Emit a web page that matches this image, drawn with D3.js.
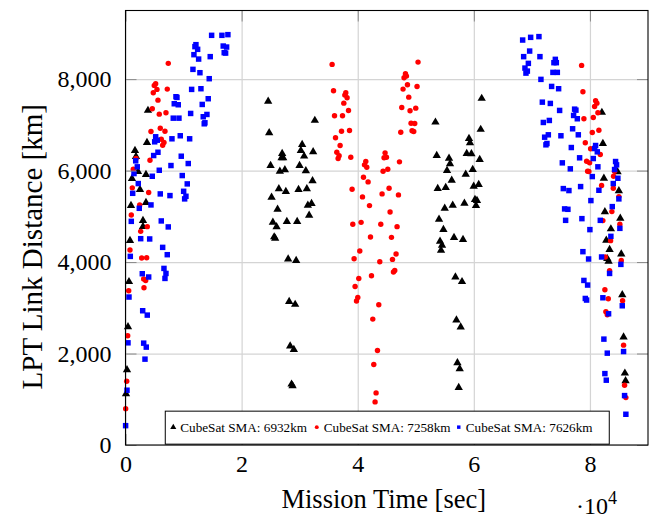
<!DOCTYPE html>
<html>
<head>
<meta charset="utf-8">
<script src="https://cdn.jsdelivr.net/npm/d3@7"></script>
<style>
  body { margin: 0; background: #fff; }
  svg { display: block; font-family: 'Liberation Serif', 'DejaVu Serif', serif; }
  .grid line { stroke: #d4d4d4; stroke-width: 1.2; }
  .grid path { display: none; }
  .ticks line { stroke: #8a8a8a; stroke-width: 1; }
  .ticks path { display: none; }
  .ticks text { fill: #000; font-size: 24px; font-family: 'Liberation Serif', 'DejaVu Serif', serif; }
</style>
</head>
<body>
<div id="chart"></div>
<script>
// Mission time [s] / LPT link distance [km]
const seriesNames = ['CubeSat SMA: 6932km', 'CubeSat SMA: 7258km', 'CubeSat SMA: 7626km'];
const xTicks = [0, 20000, 40000, 60000, 80000];
const yTicks = [0, 2000, 4000, 6000, 8000];

const sma6932 = [
  [3870, 7315], [3700, 6614], [1635, 6439], [1807, 6307], [2151, 5979], [3528, 5913],
  [1119, 5825], [2495, 5585], [947, 5234], [3528, 5300], [3012, 4906], [3012, 4774],
  [774, 4468], [602, 3570], [430, 2584], [258, 1643], [86, 1117],
  [24576, 7512], [32613, 7096], [24748, 6826], [30427, 6570], [30204, 6439], [26985, 6373],
  [26882, 6279], [27157, 6279], [32320, 6410], [30771, 6314], [24989, 6110], [29980, 6110],
  [26589, 5985], [27450, 6016], [31064, 5994], [32217, 5775], [26417, 5600], [27622, 5541],
  [29808, 5585], [31236, 5600], [25161, 5416], [32045, 5278], [31408, 5241], [26194, 5153],
  [31632, 5022], [25385, 4868], [26021, 4768], [27794, 4884], [29567, 4884], [25608, 4549],
  [25781, 4518], [28018, 4067], [29395, 4030], [28190, 3138], [29223, 3073], [28362, 2162],
  [28999, 2087], [28603, 1329], [28775, 1292],
  [61354, 7577], [53385, 7058], [61182, 6899], [59168, 6701], [59340, 6607], [58772, 6373],
  [59581, 6366], [53609, 6329], [55726, 6270], [55898, 6147], [61010, 6242], [55382, 6001],
  [59805, 6023], [58600, 5920], [56191, 5788], [53781, 5606], [55158, 5628], [59977, 5657],
  [60838, 5694], [60201, 5366], [60545, 5344], [60373, 5234], [54986, 5175], [56363, 5241],
  [58376, 5285], [54005, 4934], [54762, 4709], [56586, 4533], [58135, 4490], [54177, 4452],
  [54521, 4365], [54349, 4255], [56827, 3673], [57963, 3570], [57000, 2731], [57740, 2578],
  [57172, 1796], [57567, 1664], [57395, 1255],
  [82057, 7271], [82229, 6592], [84759, 5972], [82401, 5832], [84983, 5556], [82574, 5096],
  [85224, 4956], [83606, 4724], [82815, 4474], [83382, 4271], [85396, 4176], [82987, 4073],
  [83210, 4014], [85568, 3285], [85792, 2359], [86016, 1570], [86136, 1402]
];

const sma7258 = [
  [7366, 8344], [5197, 7899], [4956, 7862], [5421, 7775], [7194, 7781], [4784, 7702],
  [5593, 7540], [4612, 7352], [6970, 7264], [5817, 7234], [4389, 6855], [5989, 6927],
  [6798, 6861], [6161, 6686], [6626, 6614], [6402, 6555], [4216, 6226], [1807, 6263],
  [1342, 6029], [1170, 5622], [3993, 5519], [2444, 5249], [998, 5030], [3752, 4774],
  [2616, 4671], [774, 4264], [2788, 4089], [3649, 4095], [3132, 3629], [3476, 3598],
  [3184, 3438], [551, 3373], [379, 2387], [207, 1395], [30, 795],
  [35590, 8322], [35831, 7746], [37948, 7702], [37776, 7650], [38172, 7593], [37604, 7474],
  [38413, 7315], [36003, 7199], [37380, 7199], [37208, 6861], [38585, 6877], [36176, 6717],
  [36967, 6548], [36399, 6401], [36795, 6323], [36624, 6263], [38809, 6292], [41390, 6198],
  [41166, 6125], [41562, 6073], [44712, 6388], [44953, 6292], [44539, 6279], [47190, 6191],
  [45176, 6029], [44367, 5985], [40994, 5854], [41786, 5753], [39032, 5591], [45400, 5613],
  [44195, 5490], [47018, 5468], [40822, 5425], [42027, 5234], [45572, 5096], [39153, 4825],
  [40581, 4868], [43972, 4825], [46777, 4774], [42199, 4549], [45813, 4540], [40357, 4242],
  [39376, 4073], [46605, 4176], [43799, 4008], [45985, 4058], [46381, 3817], [46157, 3782],
  [42371, 3701], [40185, 3642], [39549, 3467], [40013, 3226], [39790, 3147], [43627, 3066],
  [42595, 2753], [43404, 2065], [42767, 1759], [43163, 1139], [42991, 942],
  [50391, 8372], [48222, 8118], [48395, 8066], [47981, 8031], [48567, 7877], [50219, 7840],
  [47809, 7781], [48790, 7606], [47586, 7380], [49014, 7308], [49995, 7365], [49186, 7036],
  [49823, 7030], [47413, 6839], [49358, 6870], [49651, 6855],
  [78564, 8300], [78787, 7724], [80973, 7527], [81197, 7474], [80801, 7402], [81369, 7264],
  [80577, 7161], [78959, 7133], [81541, 6883], [80405, 6833], [79200, 6607], [80113, 6476],
  [81782, 6351], [79424, 6204], [79940, 6169], [79597, 5985], [79820, 5979], [84243, 5985],
  [84070, 5876], [82006, 5672], [84019, 5613], [84983, 5431], [83778, 5103], [82229, 4906],
  [85155, 4825], [83555, 4468], [82642, 4111], [85396, 4036], [83382, 3811], [82574, 3395],
  [83159, 3197], [85620, 3154], [82746, 2913], [82987, 2847], [85792, 2183], [85964, 1307],
  [86188, 1036]
];

const sma7626 = [
  [14835, 8957], [16608, 8957], [17640, 8972], [12133, 8753], [11961, 8710], [12426, 8651],
  [16831, 8723], [17417, 8701], [17003, 8578], [17244, 8569], [11789, 8534], [12598, 8438],
  [14594, 8491], [11617, 8213], [12821, 8140], [14422, 8009], [11393, 7775], [12994, 7790],
  [14250, 7571], [8691, 7615], [8863, 7599], [8398, 7461], [9087, 7439], [13217, 7446],
  [11221, 7249], [14026, 7227], [13389, 7177], [8226, 7146], [9207, 7146], [13682, 7045],
  [13561, 7023], [5197, 6739], [9431, 6761], [11049, 6695], [8003, 6695], [5473, 6664],
  [5025, 6629], [5593, 6401], [4853, 6329], [9603, 6314], [10808, 6154], [1755, 6213],
  [2031, 6082], [7831, 6110], [5817, 6007], [1463, 5935], [4612, 5876], [9775, 5891],
  [2203, 5716], [10636, 5709], [1239, 5503], [5989, 5490], [7658, 5453], [10016, 5547],
  [10412, 5438], [10188, 5381], [4389, 5249], [2375, 5175], [998, 4890], [6161, 4899],
  [7366, 4768], [2616, 4511], [4165, 4505], [6402, 4321], [7194, 4161], [826, 4124],
  [6626, 3861], [6970, 3751], [6798, 3642], [2891, 3745], [3993, 3673], [602, 3235],
  [2960, 2935], [3752, 2840], [430, 2234], [3132, 2227], [3580, 2140], [3356, 1877],
  [258, 1198], [20, 423],
  [68410, 8854], [69787, 8913], [71215, 8929], [69614, 8613], [68582, 8491], [71387, 8491],
  [74037, 8432], [74210, 8359], [73796, 8359], [69391, 8344], [68806, 8241], [69219, 8175],
  [68978, 8131], [73624, 8147], [74382, 8147], [71559, 7994], [73401, 7840], [74605, 7790],
  [71800, 7496], [73177, 7468], [74777, 7315], [77359, 7343], [77583, 7321], [77187, 7205],
  [77824, 7133], [71972, 7052], [73005, 7096], [77015, 6914], [72833, 6782], [72196, 6730],
  [75001, 6761], [77996, 6782], [72592, 6592], [72420, 6563], [76791, 6504], [80973, 6548],
  [80801, 6482], [81266, 6410], [78219, 6279], [80577, 6263], [75242, 6169], [76619, 6038],
  [81369, 6082], [84415, 6198], [84587, 6125], [84243, 6023], [80405, 5869], [84811, 5832],
  [84019, 5716], [75414, 5606], [76378, 5563], [78392, 5650], [81541, 5569], [84983, 5381],
  [80164, 5344], [83847, 5212], [75638, 5162], [76206, 5153], [75810, 4912], [78615, 4949],
  [81782, 4912], [85155, 4737], [79992, 4709], [83606, 4562], [78787, 4227], [79768, 4067],
  [82006, 4111], [85327, 3949], [83382, 3751], [78959, 3598], [79597, 3497], [79200, 3204],
  [79424, 3169], [82229, 3219], [85568, 3044], [83210, 2869], [82401, 2315], [85792, 2043],
  [82987, 2008], [82574, 1561], [82815, 1417], [85964, 1080], [86188, 672]
];

const serif = "'Liberation Serif', 'DejaVu Serif', serif";

const draw = (elem) => {
  const margin = { top: 10.5, right: 4, bottom: 73, left: 125.5 };
  const width = 652 - margin.left - margin.right;
  const height = 518 - margin.top - margin.bottom;

  const x = d3.scaleLinear().domain([0, 90000]).range([0, width]);
  const y = d3.scaleLinear().domain([0, 9500]).range([height, 0]);

  const svg = d3.select(elem)
    .append('svg')
    .attr('width', 652)
    .attr('height', 518)
    .append('g')
    .attr('transform', `translate(${margin.left}, ${margin.top})`);

  // grid lines
  svg.append('g')
    .attr('class', 'grid')
    .attr('transform', `translate(0, ${height})`)
    .call(d3.axisBottom(x).tickValues(xTicks).tickSize(-height).tickFormat(''));

  svg.append('g')
    .attr('class', 'grid')
    .call(d3.axisLeft(y).tickValues(yTicks).tickSize(-width).tickFormat(''));

  // inward ticks on top and right
  svg.append('g')
    .attr('class', 'ticks')
    .call(d3.axisTop(x).tickValues(xTicks).tickSize(-11).tickFormat(''));
  svg.append('g')
    .attr('class', 'ticks')
    .attr('transform', `translate(${width}, 0)`)
    .call(d3.axisRight(y).tickValues(yTicks).tickSize(-11).tickFormat(''));

  // series
  const styles = [
    { type: d3.symbolTriangle, size: 30, color: '#000' },
    { type: d3.symbolCircle, size: 23, color: '#ff0000' },
    { type: d3.symbolSquare, size: 30, color: '#0000ff' },
  ];
  [sma6932, sma7258, sma7626].forEach((data, i) => {
    const sym = d3.symbol().type(styles[i].type).size(styles[i].size);
    svg.append('g')
      .selectAll('path')
      .data(data)
      .join('path')
      .attr('transform', d => `translate(${x(d[0])}, ${y(d[1])})`)
      .attr('d', sym)
      .attr('fill', styles[i].color);
  });

  // axes with labels
  const xAxis = svg.append('g')
    .attr('class', 'ticks')
    .attr('transform', `translate(0, ${height})`)
    .call(d3.axisBottom(x).tickValues(xTicks).tickSize(-11).tickPadding(22).tickFormat(d => d / 10000))
    .attr('font-family', serif);
  xAxis.selectAll('text').attr('dy', '0.2em').attr('font-family', serif);

  const yAxis = svg.append('g')
    .attr('class', 'ticks')
    .call(d3.axisLeft(y).tickValues(yTicks).tickSize(-11).tickPadding(14).tickFormat(d3.format(',')))
    .attr('font-family', serif);
  yAxis.selectAll('text').attr('font-family', serif);

  // legend
  const lg = svg.append('g')
    .attr('transform', `translate(${x(6850)}, ${y(740)})`);
  lg.append('rect')
    .attr('width', 444)
    .attr('height', 33)
    .attr('fill', '#fff')
    .attr('stroke', '#000')
    .attr('stroke-width', 1);
  const entryX = [8, 151.5, 293.5];
  seriesNames.forEach((name, i) => {
    const sym = d3.symbol().type(styles[i].type).size(i === 0 ? 16 : 12);
    lg.append('path')
      .attr('transform', `translate(${entryX[i]}, 16)`)
      .attr('d', sym)
      .attr('fill', styles[i].color);
    lg.append('text')
      .attr('x', entryX[i] + 7)
      .attr('y', 20.5)
      .attr('font-size', 13.2)
      .text(name);
  });

  // frame
  svg.append('rect')
    .attr('width', width)
    .attr('height', height)
    .attr('fill', 'none')
    .attr('stroke', '#000')
    .attr('stroke-width', 1.1);

  // axis titles
  svg.append('text')
    .attr('x', width / 2 - 3)
    .attr('y', height + 63)
    .attr('text-anchor', 'middle')
    .attr('font-size', 26.5)
    .text('Mission Time [sec]');

  const mult = svg.append('text')
    .attr('x', x(84660))
    .attr('y', height + 69)
    .attr('text-anchor', 'end')
    .attr('font-size', 24);
  mult.append('tspan').text('·10');
  mult.append('tspan').attr('dy', -10).attr('font-size', 18).text('4');

  svg.append('text')
    .attr('transform', `translate(-84, ${height / 2 + 19}) rotate(-90)`)
    .attr('text-anchor', 'middle')
    .attr('font-size', 29)
    .text('LPT Link Distance [km]');
};

draw(document.getElementById('chart'));
</script>
</body>
</html>
